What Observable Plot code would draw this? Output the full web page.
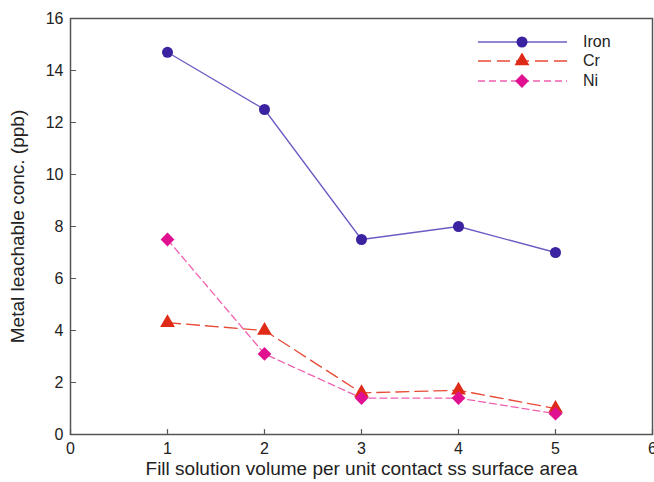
<!DOCTYPE html>
<html><head><meta charset="utf-8">
<script src="https://cdn.jsdelivr.net/npm/d3@7"></script>
<script src="https://cdn.jsdelivr.net/npm/@observablehq/plot@0.6"></script>
<style>
body{margin:0;background:#fff;font-family:"Liberation Sans",Arial,sans-serif;}
#wrap{position:relative;width:654px;height:482px;}
#legend{position:absolute;left:470px;top:32px;font-size:16px;color:#222;}
#legend .row{display:flex;align-items:center;height:19.5px;}
#legend span{margin-left:16px;}
</style>
</head><body>
<div id="wrap"><div id="chart"></div><div id="legend"></div></div>
<script>
const xValues = [1, 2, 3, 4, 5];
const iron = [14.7, 12.5, 7.5, 8.0, 7.0];
const cr = [4.3, 4.0, 1.6, 1.7, 1.0];
const ni = [7.5, 3.1, 1.4, 1.4, 0.8];
const xTicks = [0, 1, 2, 3, 4, 5, 6];
const yTicks = [0, 2, 4, 6, 8, 10, 12, 14, 16];
const xDomain = [0, 6];
const yDomain = [0, 16];
const seriesNames = ["Iron", "Cr", "Ni"];

const series = [
  {name: "Iron", values: iron, line: "#6a5cc4", fill: "#3a22a0", symbol: "circle", r: 5.5, dash: null, sw: 1.3},
  {name: "Cr", values: cr, line: "#e84a35", fill: "#e02a18", symbol: "triangle", r: 5.5, dash: "13,6", sw: 1.3},
  {name: "Ni", values: ni, line: "#f060b0", fill: "#e01090", symbol: "diamond2", r: 6.2, dash: "7,4", sw: 1.3}
];

const marks = [];
for (const s of series) {
  const data = xValues.map((x, i) => ({x, y: s.values[i]}));
  marks.push(Plot.line(data, {x: "x", y: "y", stroke: s.line, strokeWidth: s.sw, strokeDasharray: s.dash}));
  marks.push(Plot.dot(data, {x: "x", y: "y", fill: s.fill, symbol: s.symbol, r: s.r, stroke: "none"}));
}

const tickShape = {draw(context, l) { context.moveTo(0, 0); context.lineTo(0, -l); }};
const axisColor = "#555";
const chart = Plot.plot({
  width: 654,
  height: 482,
  marginLeft: 70,
  marginRight: 2,
  marginTop: 18,
  marginBottom: 48,
  style: {fontFamily: "Liberation Sans, Arial, sans-serif", fontSize: "16px", color: "#222"},
  x: {domain: xDomain},
  y: {domain: yDomain},
  marks: [
    // inward ticks
    Plot.vector(xTicks, {x: d => d, y: yDomain[0], length: 5, rotate: 0, anchor: "start", stroke: axisColor, strokeWidth: 1.2, shape: tickShape}),
    Plot.vector(yTicks, {x: xDomain[0], y: d => d, length: 5, rotate: 90, anchor: "start", stroke: axisColor, strokeWidth: 1.2, shape: tickShape}),
    Plot.frame({stroke: axisColor, strokeWidth: 1.5}),
    // labels
    Plot.axisX({ticks: xTicks, tickSize: 0, tickPadding: 8, tickFormat: "d", fontSize: 16,
      label: "Fill solution volume per unit contact ss surface area", labelAnchor: "center", labelOffset: 40, labelArrow: "none"}),
    Plot.axisY({ticks: yTicks, tickSize: 0, tickPadding: 7, tickFormat: "d", fontSize: 16,
      label: "Metal leachable conc. (ppb)", labelAnchor: "center", labelOffset: 60, labelArrow: "none"}),
    ...marks
  ]
});
chart.querySelectorAll('g[aria-label="x-axis label"] text, g[aria-label="y-axis label"] text').forEach(t => t.setAttribute("font-size", "19"));
document.getElementById("chart").appendChild(chart);

const leg = document.getElementById("legend");
for (const s of series) {
  const row = document.createElement("div");
  row.className = "row";
  const svg = d3.create("svg").attr("width", 97).attr("height", 16);
  svg.append("line").attr("x1", 8).attr("x2", 97).attr("y1", 8).attr("y2", 8)
    .attr("stroke", s.line).attr("stroke-width", s.sw).attr("stroke-dasharray", s.dash);
  const sym = {circle: d3.symbolCircle, triangle: d3.symbolTriangle, diamond2: d3.symbolDiamond2}[s.symbol];
  svg.append("path").attr("d", d3.symbol(sym, Math.PI * s.r * s.r)()).attr("transform", "translate(52,8)").attr("fill", s.fill);
  row.appendChild(svg.node());
  const t = document.createElement("span");
  t.textContent = s.name;
  row.appendChild(t);
  leg.appendChild(row);
}
</script>
</body></html>
